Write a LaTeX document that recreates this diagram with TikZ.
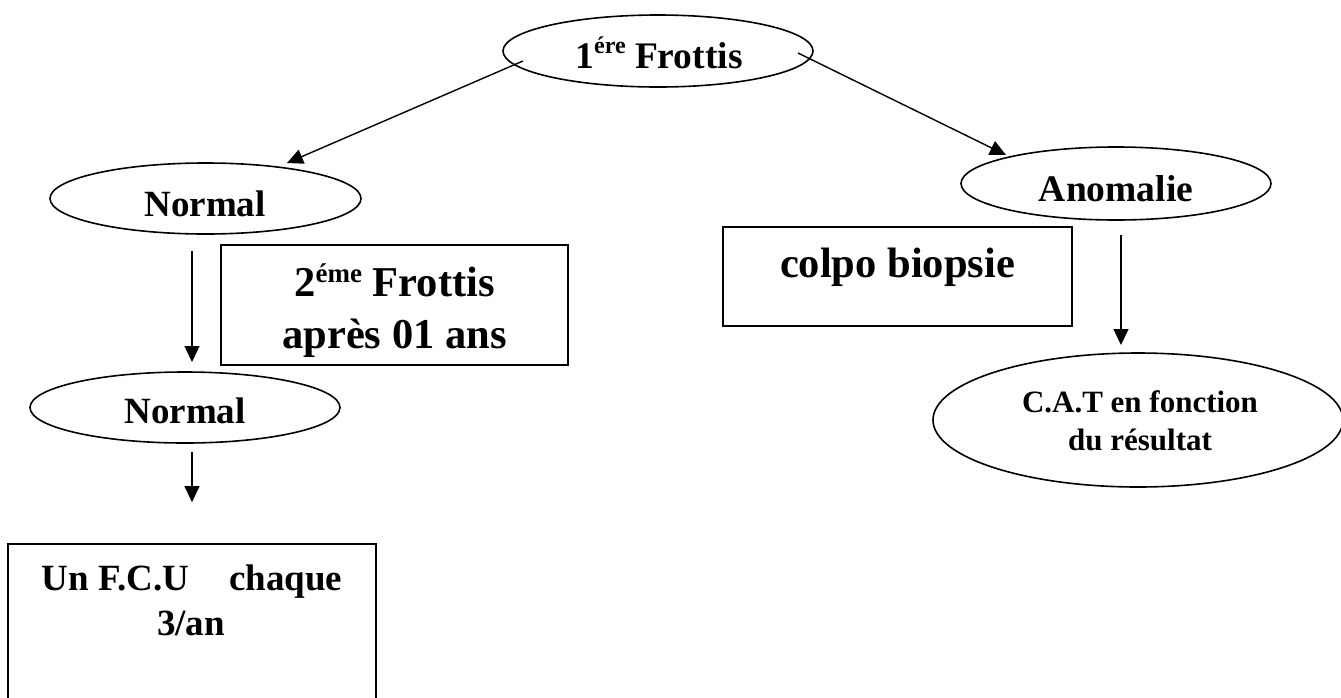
\documentclass[tikz,border=0pt]{standalone}
\usepackage{fontspec}
\setmainfont{Liberation Serif}
\usetikzlibrary{shapes.geometric,arrows.meta,calc}
\newcommand{\fsz}[1]{\fontsize{#1}{#1}\selectfont}
\newcommand{\supx}[3]{\raisebox{#2pt}{\fsz{#1}#3}}
\begin{document}
\begin{tikzpicture}[x=1pt,y=-1pt,
  oval/.style={draw, ellipse, line width=1.6pt, inner sep=0pt},
  boxnode/.style={draw, rectangle, line width=1.8pt, inner sep=0pt},
  txt/.style={anchor=base, inner sep=0pt, font=\bfseries},
  arr/.style={line width=1.4pt, -{Triangle[length=16pt,width=15pt]}}]
\useasboundingbox (0,0) rectangle (1341,697);
% shapes
\node[oval, minimum width=310pt, minimum height=72pt] (e1) at (658,51) {};
\node[oval, minimum width=311pt, minimum height=71pt] (e2) at (205.5,198.5) {};
\node[oval, minimum width=310pt, minimum height=73pt] (e3) at (1116,183.5) {};
\node[oval, minimum width=310pt, minimum height=71pt] (e4) at (185,407.5) {};
\node[oval, minimum width=410pt, minimum height=134pt] (e5) at (1138,420) {};
\node[boxnode, minimum width=347pt, minimum height=120pt] (r1) at (394.5,305) {};
\node[boxnode, minimum width=349pt, minimum height=99pt] (r2) at (897.5,276.5) {};
\node[boxnode, minimum width=368pt, minimum height=160pt] (r3) at (192,624) {};
% texts
\node[txt] (t1) at (659,68) {\fsz{37.5}1\supx{24}{15}{ére} Frottis};
\node[txt] (t2) at (205,216) {\fsz{37}Normal};
\node[txt] (t3) at (1116,201) {\fsz{37.5}Anomalie};
\node[txt] (t4) at (185,423) {\fsz{37}Normal};
\node[txt] (t5a) at (1140,412) {\fsz{31}C.A.T en fonction};
\node[txt] (t5b) at (1140,450) {\fsz{31}du résultat};
\node[txt] (t6a) at (394.5,296) {\fsz{42.5}2\supx{27}{14}{éme} Frottis};
\node[txt] (t6b) at (394.5,348) {\fsz{42.5}après 01 ans};
\node[txt] (t7) at (897.5,277) {\fsz{42.5}colpo biopsie};
\node[txt] (t8a) at (192,590) {\fsz{37}Un F.C.U\hspace{40pt}chaque};
\node[txt] (t8b) at (191,635) {\fsz{37}3/an};
% connectors
\draw[arr] ($(e1.center)+(-135,10)$) -- ($(e2.center)+(81.5,-35.5)$);
\draw[arr] ($(e1.center)+(140,2)$) -- ($(e3.center)+(-110,-28.5)$);
\draw[arr] ($(e2.center)+(-13.5,52.5)$) -- ($(e4.center)+(7,-45.5)$);
\draw[arr] ($(e4.center)+(7,44.5)$) -- ($(r3.north)+(0,-41)$);
\draw[arr] ($(e3.center)+(5,51.5)$) -- ($(e5.center)+(-17,-75)$);
\end{tikzpicture}
\end{document}
